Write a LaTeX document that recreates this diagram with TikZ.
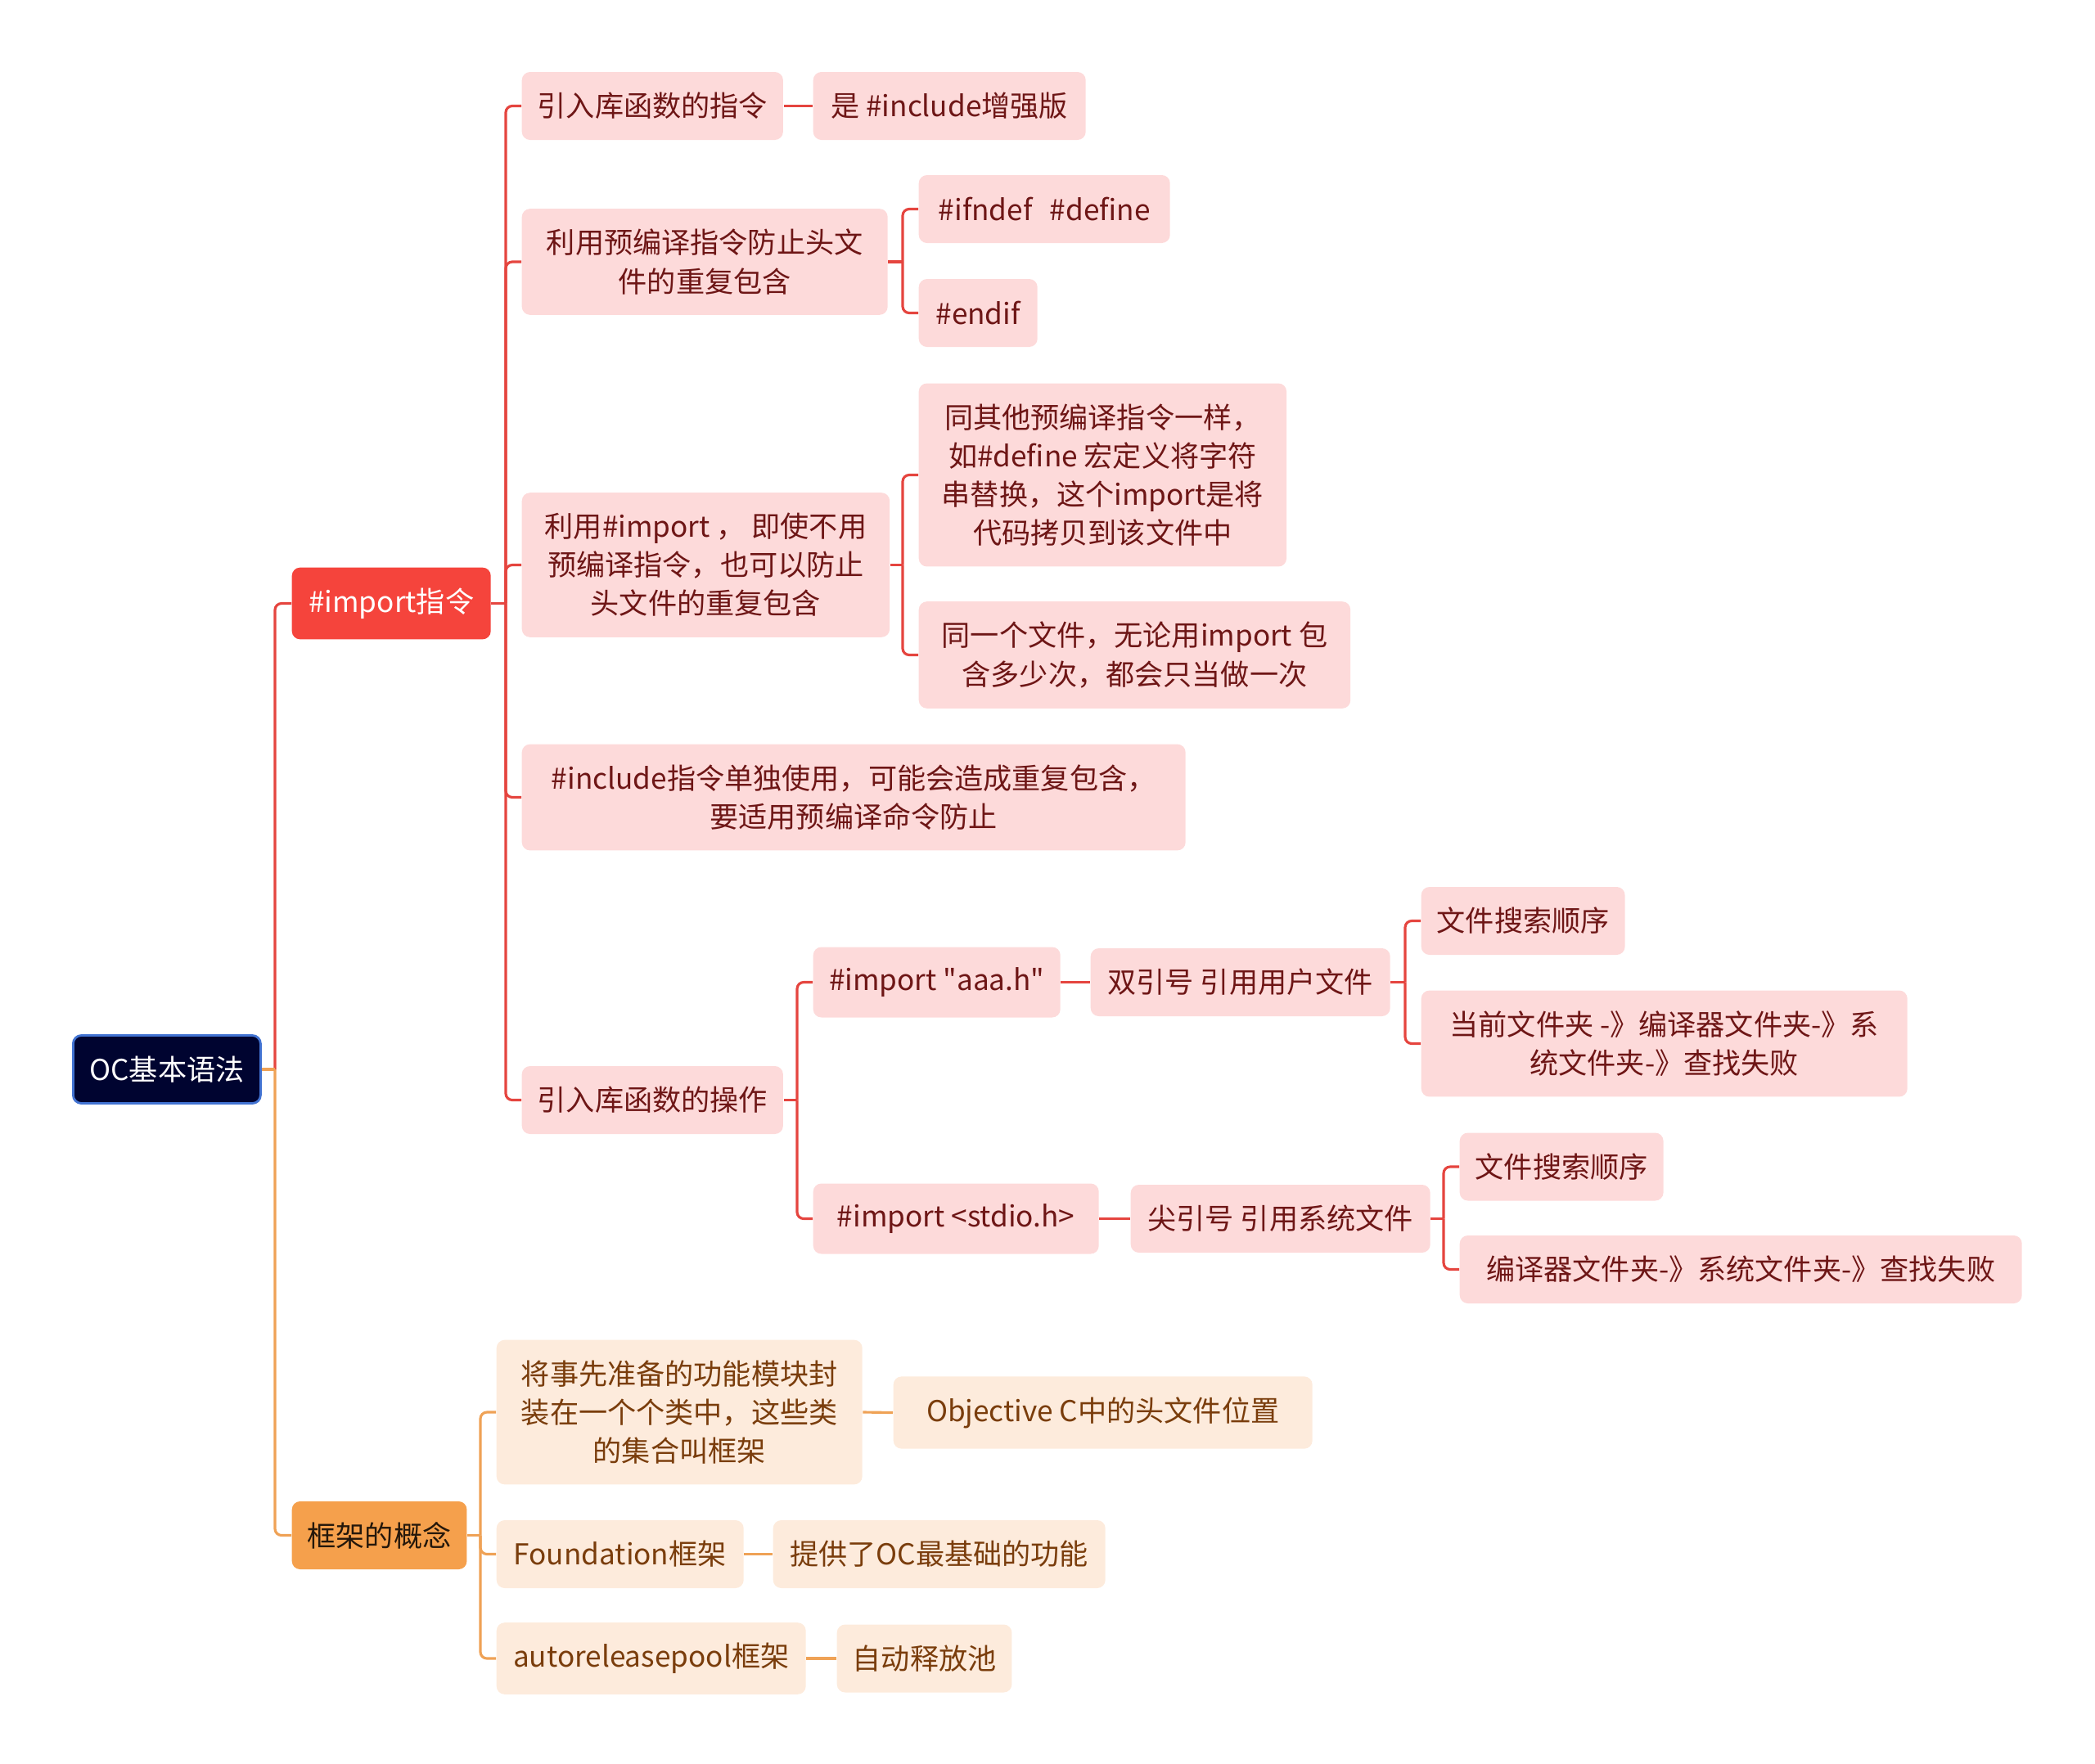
\documentclass[tikz,border=0pt]{standalone}
\usepackage{fontspec}
\setmainfont{Noto Sans CJK SC}[Ligatures=TeXOff]
\usepackage{xcolor}
\definecolor{colRoot}{HTML}{000430}
\definecolor{colRootLine}{HTML}{4273D2}
\definecolor{colImp}{HTML}{F5443C}
\definecolor{colImpLine}{HTML}{E5453F}
\definecolor{colImpFill}{HTML}{FDDADA}
\definecolor{colImpText}{HTML}{6E1616}
\definecolor{colFw}{HTML}{F5A04C}
\definecolor{colFwLine}{HTML}{EFA256}
\definecolor{colFwFill}{HTML}{FDEBDC}
\definecolor{colFwText}{HTML}{7A3D0C}
\usepackage{tikz}
\usetikzlibrary{calc}

\begin{document}
\begin{tikzpicture}[x=1cm, y=-1cm,
		every node/.style={font=\fontsize{10}{13.4}\selectfont, anchor=west, align=center,
			inner xsep=0.19cm, inner ysep=0.25cm, minimum height=0.83cm, rounded corners=0.1cm},
		boxw/.style={minimum width=#1cm},
		rootbox/.style={fill=colRoot, draw=colRootLine, line width=0.8pt, text=white},
		impmain/.style={fill=colImp, text=white},
		fwmain/.style={fill=colFw, text=black!85!colFw},
		impbox/.style={fill=colImpFill, text=colImpText},
		fwbox/.style={fill=colFwFill, text=colFwText},
		multi/.style={inner xsep=0.28cm},
		impline/.style={draw=colImpLine, line width=0.9pt, rounded corners=0.08cm},
		fwline/.style={draw=colFwLine, line width=0.9pt, rounded corners=0.08cm}]
	\useasboundingbox (0,0) rectangle (25.6,21.56);

	\node[rootbox, boxw=2.29] (root) at (0.88,13.07) {OC基本语法};
	\node[impmain, boxw=2.43] (imp) at (3.56,7.375) {\#import指令};
	\node[fwmain, boxw=2.12] (fw) at (3.56,18.765) {框架的概念};

	% #import branch
	\node[impbox, boxw=3.18] (a1) at (6.37,1.295) {引入库函数的指令};
	\node[impbox, boxw=3.33] (a1b) at (9.93,1.295) {是 \#include增强版};
	\node[impbox, multi, boxw=4.47] (a2) at (6.37,3.20) {利用预编译指令防止头文\\件的重复包含};
	\node[impbox, boxw=3.07] (a2a) at (11.22,2.555) {\#ifndef\hspace{0.6em}\#define};
	\node[impbox, boxw=1.45] (a2b) at (11.22,3.825) {\#endif};
	\node[impbox, multi, boxw=4.47] (a3) at (6.37,6.905) {利用\#import ， 即使不用\\预编译指令，也可以防止\\头文件的重复包含};
	\node[impbox, multi, boxw=4.49] (a3a) at (11.22,5.805) {同其他预编译指令一样，\\如\#define 宏定义将字符\\串替换，这个import是将\\代码拷贝到该文件中};
	\node[impbox, multi, boxw=5.27] (a3b) at (11.22,8.005) {同一个文件，无论用import 包\\含多少次，都会只当做一次};
	\node[impbox, multi, boxw=8.11] (a4) at (6.37,9.745) {\#include指令单独使用，可能会造成重复包含，\\要适用预编译命令防止};
	\node[impbox, boxw=3.18] (a5) at (6.37,13.445) {引入库函数的操作};
	\node[impbox, boxw=3.02] (a5a) at (9.93,12.005) {\#import "aaa.h"};
	\node[impbox, boxw=3.66] (a5a1) at (13.32,12.005) {双引号 引用用户文件};
	\node[impbox, boxw=2.48] (a5a1a) at (17.36,11.255) {文件搜索顺序};
	\node[impbox, multi, boxw=5.94] (a5a1b) at (17.36,12.755) {当前文件夹 -》编译器文件夹-》系\\统文件夹-》查找失败};
	\node[impbox, boxw=3.49] (a5b) at (9.93,14.895) {\#import <stdio.h>};
	\node[impbox, boxw=3.66] (a5b1) at (13.81,14.895) {尖引号 引用系统文件};
	\node[impbox, boxw=2.46] (a5b1a) at (17.83,14.26) {文件搜索顺序};
	\node[impbox, boxw=6.87] (a5b1b) at (17.83,15.515) {编译器文件夹-》系统文件夹-》查找失败};

	% framework branch
	\node[fwbox, multi, boxw=4.47] (b1) at (6.06,17.26) {将事先准备的功能模块封\\装在一个个类中，这些类\\的集合叫框架};
	\node[fwbox, boxw=5.12] (b1a) at (10.91,17.265) {Objective C中的头文件位置};
	\node[fwbox, boxw=3.02] (b2) at (6.06,18.995) {Foundation框架};
	\node[fwbox, boxw=4.06] (b2a) at (9.44,18.995) {提供了OC最基础的功能};
	\node[fwbox, boxw=3.78] (b3) at (6.06,20.27) {autoreleasepool框架};
	\node[fwbox, boxw=2.12] (b3a) at (10.22,20.27) {自动释放池};

	\coordinate (jroot) at ([xshift=-0.2cm]imp.west |- root.east);
	\coordinate (jimp) at ([xshift=-0.19cm]a1.west |- imp.east);
	\coordinate (ja2) at ([xshift=-0.19cm]a2a.west |- a2.east);
	\coordinate (ja3) at ([xshift=-0.19cm]a3a.west |- a3.east);
	\coordinate (ja5) at ([xshift=-0.19cm]a5a.west |- a5.east);
	\coordinate (ja5a) at ([xshift=-0.19cm]a5a1a.west |- a5a1.east);
	\coordinate (ja5b) at ([xshift=-0.19cm]a5b1a.west |- a5b1.east);
	\coordinate (jfw) at ([xshift=-0.19cm]b1.west |- fw.east);

	\draw[impline] (jroot) |- (imp.west);
	\draw[fwline] (jroot) |- (fw.west);
	\draw[fwline] (root.east) -- (jroot);

	\draw[impline] (imp.east) -- (jimp);
	\foreach \c in {a1,a2,a3,a4,a5}
		\draw[impline] (jimp) |- (\c.west);
	\draw[impline] (a1.east) -- (a1b.west);
	\draw[impline] (a2.east) -- (ja2);
	\foreach \c in {a2a,a2b}
		\draw[impline] (ja2) |- (\c.west);
	\draw[impline] (a3.east) -- (ja3);
	\foreach \c in {a3a,a3b}
		\draw[impline] (ja3) |- (\c.west);
	\draw[impline] (a5.east) -- (ja5);
	\foreach \c in {a5a,a5b}
		\draw[impline] (ja5) |- (\c.west);
	\draw[impline] (a5a.east) -- (a5a1.west);
	\draw[impline] (a5a1.east) -- (ja5a);
	\foreach \c in {a5a1a,a5a1b}
		\draw[impline] (ja5a) |- (\c.west);
	\draw[impline] (a5b.east) -- (a5b1.west);
	\draw[impline] (a5b1.east) -- (ja5b);
	\foreach \c in {a5b1a,a5b1b}
		\draw[impline] (ja5b) |- (\c.west);

	\draw[fwline] (fw.east) -- (jfw);
	\foreach \c in {b1,b2,b3}
		\draw[fwline] (jfw) |- (\c.west);
	\draw[fwline] (b1.east) -- (b1a.west);
	\draw[fwline] (b2.east) -- (b2a.west);
	\draw[fwline] (b3.east) -- (b3a.west);
\end{tikzpicture}
\end{document}
